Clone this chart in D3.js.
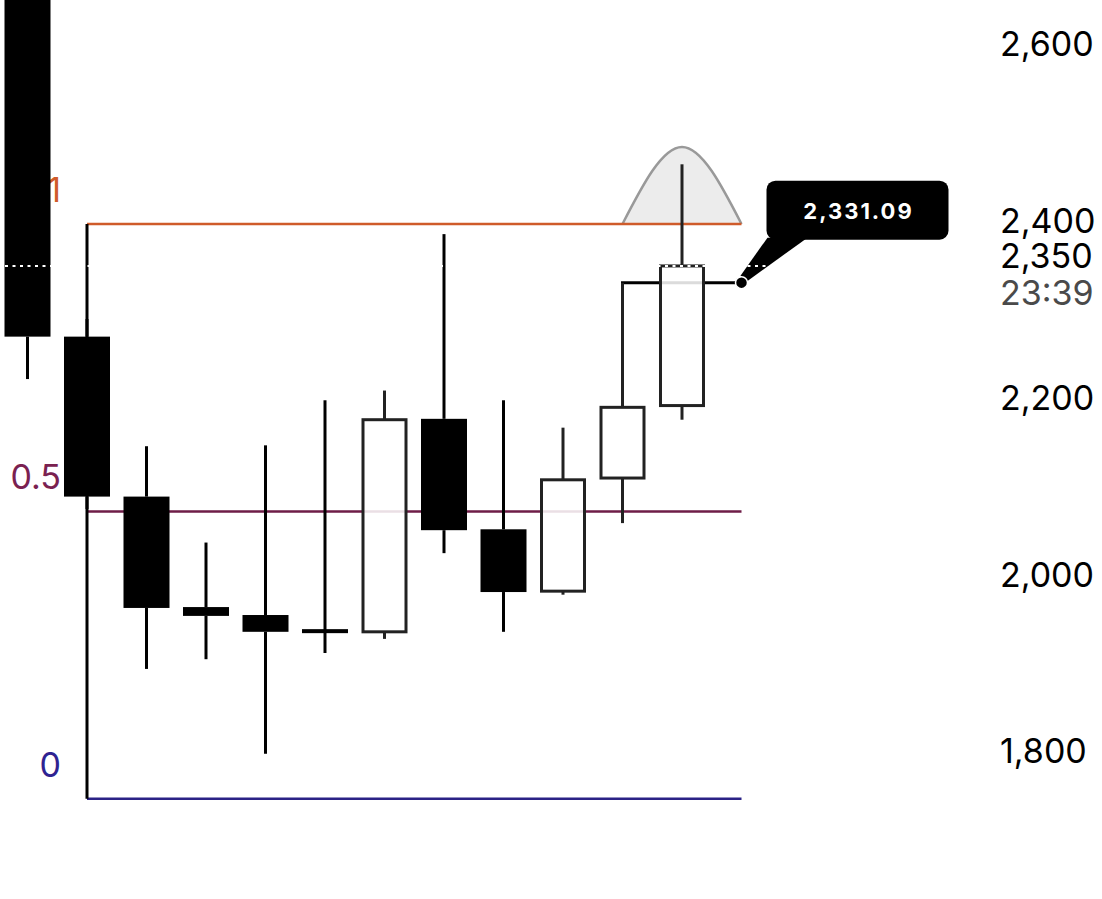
<!DOCTYPE html>
<html>
<head>
<meta charset="utf-8">
<script src="https://cdn.jsdelivr.net/npm/d3@7"></script>
<style>
  body { margin: 0; background: #fff; }
  svg { display: block; font-family: Inter, "Liberation Sans", sans-serif; }
</style>
</head>
<body>
<script>
// candles, left to right (first one opens above the visible range)
const opens  = [2700, 2270, 2089, 1964, 1955, 1937, 1936, 2177, 2052, 1982, 2110, 2192];
const highs  = [2720, 2290, 2146, 2037, 2147, 2198, 2209, 2386, 2198, 2167, 2331, 2465];
const lows   = [2222, 2075, 1894, 1905, 1798, 1912, 1928, 2025, 1936, 1978, 2059, 2176];
const closes = [2270, 2089, 1963, 1954, 1936, 1936.5, 2176, 2051, 1981, 2108, 2190, 2350];

const axisTicks = [1800, 2000, 2200, 2400, 2600];
const fibLevels = [1, 0.5, 0];
const fibLabels = ['1', '0.5', '0'];
const fibHigh = 2397.5;
const fibLow = 1747;
const lastPrice = 2331.09;
const lastClose = 2350;
const countdown = '23:39';
const humpPeak = 2484.6;

const fibColor = { 1: '#cf5b2a', 0.5: '#6e1d47', 0: '#2b2286' };
const fibText = { 1: '#cf5b2a', 0.5: '#7a2150', 0: '#2f2391' };

const width = 1102, height = 899;
const bodyW = 46;

const svg = d3.select('body').append('svg')
  .attr('width', width)
  .attr('height', height);

const xScale = d3.scaleLinear().domain([0, 12]).range([27.5, 741.5]);
const yScale = d3.scaleLinear().domain([1800, 2600]).range([752, 45]);
const fibValue = l => fibLow + (fibHigh - fibLow) * l;

const candles = opens.map((o, i) => ({ i, o, h: highs[i], l: lows[i], c: closes[i] }));
const lastIdx = candles.length;

// hump over the last candle
const hump = [[10, fibHigh], [11, humpPeak], [12, fibHigh]];
svg.append('path')
  .attr('d', d3.line().x(d => xScale(d[0])).y(d => yScale(d[1])).curve(d3.curveNatural)(hump))
  .attr('fill', '#ececec')
  .attr('stroke', '#999')
  .attr('stroke-width', 2.5);

// fib levels
svg.selectAll('.fib')
  .data(fibLevels)
  .enter()
  .append('line')
  .attr('class', 'fib')
  .attr('x1', xScale(1))
  .attr('x2', xScale(lastIdx))
  .attr('y1', d => yScale(fibValue(d)))
  .attr('y2', d => yScale(fibValue(d)))
  .attr('stroke', d => fibColor[d])
  .attr('stroke-width', 2.5);

svg.selectAll('.fib-label')
  .data(fibLevels)
  .enter()
  .append('text')
  .attr('class', 'fib-label')
  .attr('x', 61)
  .attr('y', d => yScale(fibValue(d)) - 22)
  .attr('text-anchor', 'end')
  .attr('font-size', 34)
  .attr('fill', d => fibText[d])
  .text((d, i) => fibLabels[i]);

svg.append('line')
  .attr('x1', xScale(1)).attr('x2', xScale(1))
  .attr('y1', yScale(fibHigh)).attr('y2', yScale(fibLow))
  .attr('stroke', '#000')
  .attr('stroke-width', 3);

// price line from candle 10 to the marker
svg.append('line')
  .attr('x1', xScale(10) - 1.5).attr('x2', xScale(lastIdx))
  .attr('y1', yScale(lastPrice)).attr('y2', yScale(lastPrice))
  .attr('stroke', '#000')
  .attr('stroke-width', 3);

// wicks: upper and lower parts, so they don't show through hollow bodies
const wicks = candles.flatMap(d => [
  { i: d.i, up: d.c >= d.o, a: d.h, b: Math.max(d.o, d.c) },
  { i: d.i, up: d.c >= d.o, a: Math.min(d.o, d.c), b: d.l }
]);
svg.selectAll('.wick')
  .data(wicks)
  .enter()
  .append('line')
  .attr('class', 'wick')
  .attr('x1', d => xScale(d.i)).attr('x2', d => xScale(d.i))
  .attr('y1', d => yScale(d.a)).attr('y2', d => yScale(d.b))
  .attr('stroke', d => d.up ? '#222' : '#000')
  .attr('stroke-width', 3);

// bodies
svg.selectAll('.body')
  .data(candles)
  .enter()
  .append('rect')
  .attr('class', 'body')
  .attr('x', d => xScale(d.i) - (d.c >= d.o ? (bodyW - 3) / 2 : bodyW / 2))
  .attr('width', d => d.c >= d.o ? bodyW - 3 : bodyW)
  .attr('y', d => {
    const top = yScale(Math.max(d.o, d.c));
    const h = Math.abs(yScale(d.o) - yScale(d.c));
    return h < 4 ? top - (4 - h) / 2 : top;
  })
  .attr('height', d => Math.max(4, Math.abs(yScale(d.o) - yScale(d.c))))
  .attr('fill', d => d.c >= d.o ? 'rgba(255,255,255,0.86)' : '#000')
  .attr('stroke', d => d.c >= d.o ? '#222' : 'none')
  .attr('stroke-width', 3);

// tooltip
const dx = xScale(lastIdx), dy = yScale(lastPrice);
svg.append('path')
  .attr('d', `M${dx + 26},${dy - 45} L${dx + 66},${dy - 45} L${dx + 5},${dy - 1} L${dx - 1},${dy - 7} Z`)
  .attr('fill', '#000');
svg.append('rect')
  .attr('x', dx + 25).attr('y', dy - 102)
  .attr('width', 182).attr('height', 59)
  .attr('rx', 9)
  .attr('fill', '#000');
svg.append('text')
  .attr('x', dx + 117).attr('y', dy - 64)
  .attr('text-anchor', 'middle')
  .attr('font-size', 22)
  .attr('font-weight', 700)
  .attr('letter-spacing', 2)
  .attr('fill', '#fff')
  .text(d3.format(',.2f')(lastPrice));

// dotted current close line
svg.append('line')
  .attr('x1', 5).attr('x2', 990)
  .attr('y1', yScale(lastClose)).attr('y2', yScale(lastClose))
  .attr('stroke', '#fff')
  .attr('stroke-width', 2)
  .attr('stroke-dasharray', '3,4.5');

svg.append('circle')
  .attr('cx', dx).attr('cy', dy)
  .attr('r', 6)
  .attr('fill', '#000')
  .attr('stroke', '#fff')
  .attr('stroke-width', 1.5);

// right axis
const yAxis = d3.axisRight(yScale)
  .tickValues(axisTicks)
  .tickSize(0)
  .tickPadding(0)
  .tickFormat(d3.format(','));

const axisG = svg.append('g')
  .attr('transform', 'translate(1000,0)')
  .call(yAxis);
axisG.select('.domain').remove();
axisG.selectAll('text')
  .attr('font-size', 34)
  .attr('font-family', 'Inter, "Liberation Sans", sans-serif')
  .attr('fill', '#000');

svg.append('text')
  .attr('x', 1000).attr('y', yScale(lastClose) + 2)
  .attr('font-size', 34)
  .attr('fill', '#000')
  .text(d3.format(',')(lastClose));
svg.append('text')
  .attr('x', 1000).attr('y', yScale(lastClose) + 39)
  .attr('font-size', 34)
  .attr('fill', '#4a4a4a')
  .text(countdown);
</script>
</body>
</html>
